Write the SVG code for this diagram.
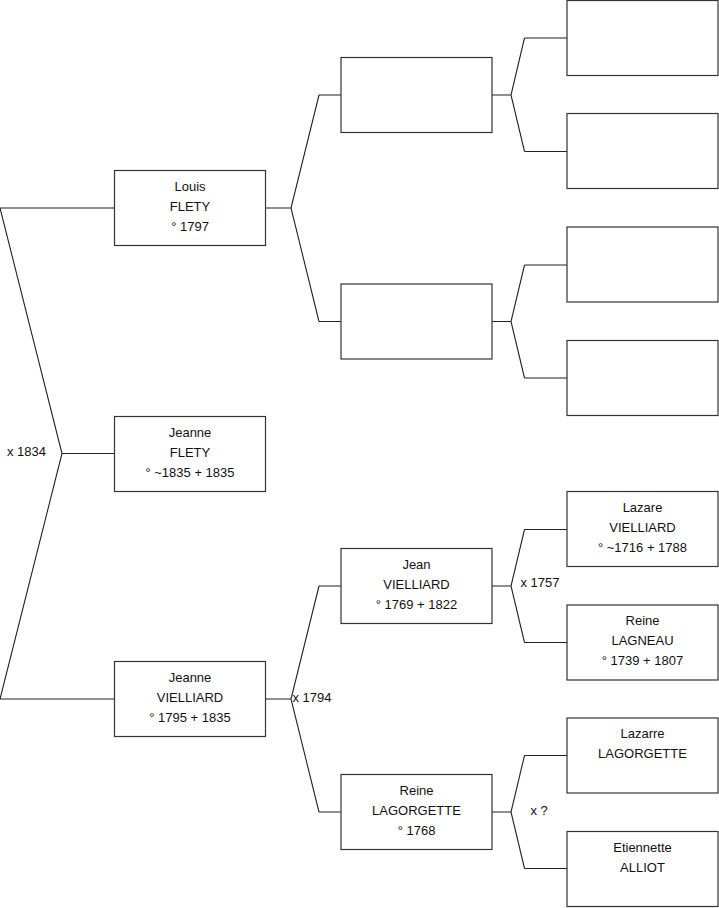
<svg xmlns="http://www.w3.org/2000/svg" width="719" height="908" viewBox="0 0 719 908">
<style>
.box{fill:#fff;stroke:#333;stroke-width:1.2}
.ln{fill:none;stroke:#222;stroke-width:1.1}
text{font-family:"Liberation Sans",Arial,sans-serif;font-size:13px;fill:#111}
.c{text-anchor:middle}
</style>
<rect width="719" height="908" fill="#fff"/>
<g id="connectors">
<path class="ln" d="M0,208 H114.5 M0,208 L62,453.5 L0,699 H114.5 M62,453.5 H114.5"/>
<path class="ln" d="M265.5,208 H291 M319,95 L291,208 L319,321.5 M319,95 H341 M319,321.5 H341"/>
<path class="ln" d="M265.5,699 H291 M319,586 L291,699 L319,812 M319,586 H341 M319,812 H341"/>
<path class="ln" d="M492,95 H511 M524.5,38 L511,95 L524.5,151.5 M524.5,38 H567 M524.5,151.5 H567"/>
<path class="ln" d="M492,321.5 H511 M524.5,265 L511,321.5 L524.5,378 M524.5,265 H567 M524.5,378 H567"/>
<path class="ln" d="M492,586 H511 M524.5,529.5 L511,586 L524.5,642.5 M524.5,529.5 H567 M524.5,642.5 H567"/>
<path class="ln" d="M492,812 H511 M524.5,755.5 L511,812 L524.5,868.5 M524.5,755.5 H567 M524.5,868.5 H567"/>
<text x="7" y="455.5">x 1834</text>
<text x="292.5" y="701.5">x 1794</text>
<text x="520.5" y="586.5">x 1757</text>
<text x="530.5" y="814.5">x ?</text>
</g>
<g id="louis-flety"><rect class="box" x="114.5" y="170.5" width="151" height="75"/>
<text class="c" x="190" y="190.5">Louis</text><text class="c" x="190" y="210.5">FLETY</text><text class="c" x="190" y="230.5">° 1797</text></g>
<g id="jeanne-flety"><rect class="box" x="114.5" y="416.5" width="151" height="75"/>
<text class="c" x="190" y="436.5">Jeanne</text><text class="c" x="190" y="456.5">FLETY</text><text class="c" x="190" y="476.5">° ~1835 + 1835</text></g>
<g id="jeanne-vielliard"><rect class="box" x="114.5" y="661.5" width="151" height="75"/>
<text class="c" x="190" y="681.5">Jeanne</text><text class="c" x="190" y="701.5">VIELLIARD</text><text class="c" x="190" y="721.5">° 1795 + 1835</text></g>
<g id="empty-1"><rect class="box" x="341" y="57.5" width="151" height="75"/></g>
<g id="empty-2"><rect class="box" x="341" y="284" width="151" height="75"/></g>
<g id="jean-vielliard"><rect class="box" x="341" y="548.5" width="151" height="75"/>
<text class="c" x="416.5" y="568.5">Jean</text><text class="c" x="416.5" y="588.5">VIELLIARD</text><text class="c" x="416.5" y="608.5">° 1769 + 1822</text></g>
<g id="reine-lagorgette"><rect class="box" x="341" y="774.5" width="151" height="75"/>
<text class="c" x="416.5" y="794.5">Reine</text><text class="c" x="416.5" y="814.5">LAGORGETTE</text><text class="c" x="416.5" y="834.5">° 1768</text></g>
<g id="empty-3"><rect class="box" x="567" y="0.5" width="151" height="75"/></g>
<g id="empty-4"><rect class="box" x="567" y="113.5" width="151" height="75"/></g>
<g id="empty-5"><rect class="box" x="567" y="227" width="151" height="75"/></g>
<g id="empty-6"><rect class="box" x="567" y="340.5" width="151" height="75"/></g>
<g id="lazare-vielliard"><rect class="box" x="567" y="491.5" width="151" height="75"/>
<text class="c" x="642.5" y="511.5">Lazare</text><text class="c" x="642.5" y="531.5">VIELLIARD</text><text class="c" x="642.5" y="551.5">° ~1716 + 1788</text></g>
<g id="reine-lagneau"><rect class="box" x="567" y="605" width="151" height="75"/>
<text class="c" x="642.5" y="625">Reine</text><text class="c" x="642.5" y="645">LAGNEAU</text><text class="c" x="642.5" y="665">° 1739 + 1807</text></g>
<g id="lazarre-lagorgette"><rect class="box" x="567" y="718" width="151" height="75"/>
<text class="c" x="642.5" y="738">Lazarre</text><text class="c" x="642.5" y="758">LAGORGETTE</text></g>
<g id="etiennette-alliot"><rect class="box" x="567" y="831.5" width="151" height="75"/>
<text class="c" x="642.5" y="851.5">Etiennette</text><text class="c" x="642.5" y="871.5">ALLIOT</text></g>
</svg>
